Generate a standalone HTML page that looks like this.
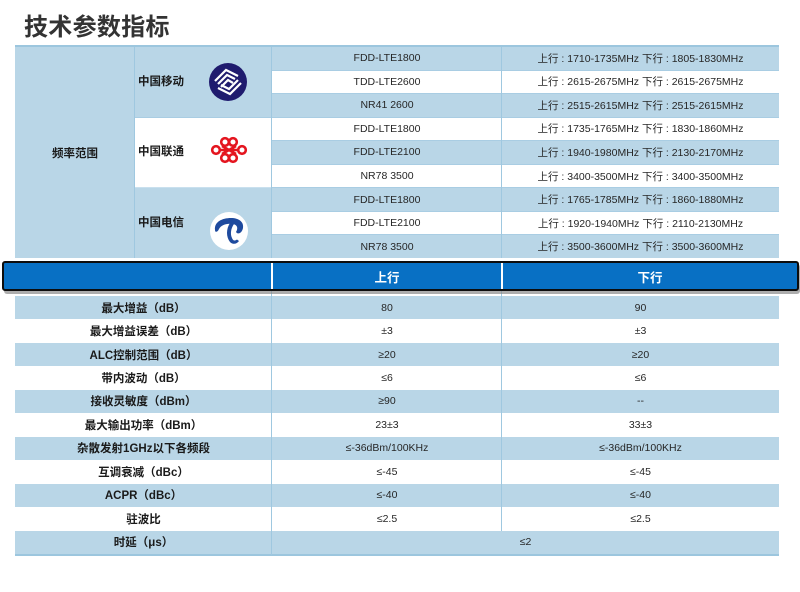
<!DOCTYPE html>
<html><head><meta charset="utf-8">
<style>
*{margin:0;padding:0;box-sizing:border-box}
body{width:800px;height:592px;background:#fff;position:relative;overflow:hidden;font-family:"Liberation Sans","Noto Sans CJK SC",sans-serif;color:#262626}
.a{position:absolute}
.title{left:24px;top:9px;font-size:24px;line-height:32px;color:#333;font-family:"Noto Sans CJK SC",sans-serif;font-weight:bold;letter-spacing:0.3px}
.c{position:absolute;display:flex;align-items:center;justify-content:center;font-size:10.5px;white-space:nowrap}
.b{font-weight:bold;font-size:11.5px;color:#1a1a1a}
.bl{background:#b9d6e7}
.wh{background:#fff}
.hl{position:absolute;height:1px;background:#a9cde3}
.vl{position:absolute;width:1px;background:#9fc8e0}
</style></head><body>
<div class="a title">技术参数指标</div>

<!-- upper table -->
<div class="a" style="left:15px;top:45px;width:764px;height:2px;background:#9cc6de"></div>
<div class="c bl b" style="left:15px;top:47px;width:120px;height:211px">频率范围</div>
<div class="a bl" style="left:135px;top:47px;width:137px;height:70px"></div>
<div class="a wh" style="left:135px;top:117px;width:137px;height:70px"></div>
<div class="a bl" style="left:135px;top:187px;width:137px;height:71px"></div>
<div class="c b" style="left:138px;top:70px;height:22px">中国移动</div>
<div class="c b" style="left:138px;top:140px;height:22px">中国联通</div>
<div class="c b" style="left:138px;top:211px;height:22px">中国电信</div>

<!-- rows col3/col4 -->
<div class="c bl" style="left:272px;top:47px;width:507px;height:22.6px"></div>
<div class="c wh" style="left:272px;top:70.6px;width:507px;height:22.5px"></div>
<div class="c bl" style="left:272px;top:94.1px;width:507px;height:22.6px"></div>
<div class="c wh" style="left:272px;top:117.7px;width:507px;height:22.5px"></div>
<div class="c bl" style="left:272px;top:141.2px;width:507px;height:22.6px"></div>
<div class="c wh" style="left:272px;top:164.8px;width:507px;height:22.5px"></div>
<div class="c bl" style="left:272px;top:188.3px;width:507px;height:22.6px"></div>
<div class="c wh" style="left:272px;top:211.9px;width:507px;height:22.5px"></div>
<div class="c bl" style="left:272px;top:235.4px;width:507px;height:22.6px"></div>

<div class="hl" style="left:272px;top:69.6px;width:507px"></div>
<div class="hl" style="left:272px;top:93.1px;width:507px"></div>
<div class="hl" style="left:272px;top:116.7px;width:507px"></div>
<div class="hl" style="left:135px;top:116.7px;width:137px;background:#a9cde3"></div>
<div class="hl" style="left:272px;top:140.2px;width:507px"></div>
<div class="hl" style="left:272px;top:163.8px;width:507px"></div>
<div class="hl" style="left:272px;top:187.3px;width:507px"></div>
<div class="hl" style="left:135px;top:187.3px;width:137px;background:#c9e0ee"></div>
<div class="hl" style="left:272px;top:210.9px;width:507px"></div>
<div class="hl" style="left:272px;top:234.4px;width:507px"></div>

<div class="vl" style="left:134px;top:47px;height:211px"></div>
<div class="vl" style="left:271px;top:47px;height:211px"></div>
<div class="vl" style="left:501px;top:47px;height:211px"></div>

<div class="c" style="left:272px;top:46.5px;width:230px;height:23.6px">FDD-LTE1800</div>
<div class="c" style="left:272px;top:70.1px;width:230px;height:23.6px">TDD-LTE2600</div>
<div class="c" style="left:272px;top:93.6px;width:230px;height:23.6px">NR41 2600</div>
<div class="c" style="left:272px;top:117.2px;width:230px;height:23.6px">FDD-LTE1800</div>
<div class="c" style="left:272px;top:140.7px;width:230px;height:23.6px">FDD-LTE2100</div>
<div class="c" style="left:272px;top:164.3px;width:230px;height:23.6px">NR78 3500</div>
<div class="c" style="left:272px;top:187.8px;width:230px;height:23.6px">FDD-LTE1800</div>
<div class="c" style="left:272px;top:211.4px;width:230px;height:23.6px">FDD-LTE2100</div>
<div class="c" style="left:272px;top:234.9px;width:230px;height:23.6px">NR78 3500</div>

<div class="c" style="left:502px;top:46.5px;width:277px;height:23.6px">上行 : 1710-1735MHz 下行 : 1805-1830MHz</div>
<div class="c" style="left:502px;top:70.1px;width:277px;height:23.6px">上行 : 2615-2675MHz 下行 : 2615-2675MHz</div>
<div class="c" style="left:502px;top:93.6px;width:277px;height:23.6px">上行 : 2515-2615MHz 下行 : 2515-2615MHz</div>
<div class="c" style="left:502px;top:117.2px;width:277px;height:23.6px">上行 : 1735-1765MHz 下行 : 1830-1860MHz</div>
<div class="c" style="left:502px;top:140.7px;width:277px;height:23.6px">上行 : 1940-1980MHz 下行 : 2130-2170MHz</div>
<div class="c" style="left:502px;top:164.3px;width:277px;height:23.6px">上行 : 3400-3500MHz 下行 : 3400-3500MHz</div>
<div class="c" style="left:502px;top:187.8px;width:277px;height:23.6px">上行 : 1765-1785MHz 下行 : 1860-1880MHz</div>
<div class="c" style="left:502px;top:211.4px;width:277px;height:23.6px">上行 : 1920-1940MHz 下行 : 2110-2130MHz</div>
<div class="c" style="left:502px;top:234.9px;width:277px;height:23.6px">上行 : 3500-3600MHz 下行 : 3500-3600MHz</div>

<!-- logos -->
<svg class="a" style="left:205px;top:60px" width="48" height="46" viewBox="0 0 48 46">
  <circle cx="23" cy="22" r="19" fill="#1f1b6e"/>
  <g fill="none" stroke="#fff" stroke-width="2.2" stroke-linejoin="miter">
    <path d="M10 21 L21 10 L33 16"/>
    <path d="M13 24 L22 15 L30 19"/>
    <path d="M16 27 L23 20 L28 23"/>
    <path d="M36 23 L25 34 L13 28"/>
    <path d="M33 20 L24 29 L16 25"/>
  </g>
</svg>
<svg class="a" style="left:210px;top:135px" width="38" height="30" viewBox="0 0 38 30">
  <g fill="none" stroke="#e4151f" stroke-width="2.6">
    <circle cx="15" cy="7" r="3.8"/>
    <circle cx="23" cy="7" r="3.8"/>
    <circle cx="15" cy="23" r="3.8"/>
    <circle cx="23" cy="23" r="3.8"/>
    <circle cx="6" cy="15" r="3.8"/>
    <circle cx="32" cy="15" r="3.8"/>
    <path d="M12 11 L26 19 M26 11 L12 19 M9 15 H29"/>
  </g>
</svg>
<svg class="a" style="left:208px;top:210px" width="42" height="42" viewBox="0 0 42 42">
  <circle cx="21" cy="21" r="19" fill="#fff"/>
  <path d="M7 20 C6 12 14 8 23 8 C31 8 36 12 35 18 C34 23 30 25 28 22 C30 19 30 15 25 14 C19 13 13 15 11 19 C10 22 7 23 7 20 Z" fill="#1e4a9e"/>
  <path d="M22 13 C18 19 18 27 22 32 C25 35 29 34 31 31 L29 29.5 C27 31 25 31 24 28 C22 24 23 18 26 14 Z" fill="#1e4a9e"/>
</svg>

<!-- lower table -->
<div class="a bl" style="left:15px;top:296px;width:764px;height:23.4px"></div>
<div class="a wh" style="left:15px;top:319.4px;width:764px;height:23.4px"></div>
<div class="a bl" style="left:15px;top:342.9px;width:764px;height:23.4px"></div>
<div class="a wh" style="left:15px;top:366.3px;width:764px;height:23.4px"></div>
<div class="a bl" style="left:15px;top:389.8px;width:764px;height:23.4px"></div>
<div class="a wh" style="left:15px;top:413.2px;width:764px;height:23.4px"></div>
<div class="a bl" style="left:15px;top:436.7px;width:764px;height:23.4px"></div>
<div class="a wh" style="left:15px;top:460.1px;width:764px;height:23.4px"></div>
<div class="a bl" style="left:15px;top:483.6px;width:764px;height:23.4px"></div>
<div class="a wh" style="left:15px;top:507px;width:764px;height:23.4px"></div>
<div class="a bl" style="left:15px;top:530.5px;width:764px;height:24.5px"></div>
<div class="a" style="left:15px;top:554px;width:764px;height:2px;background:#9cc6de"></div>
<div class="vl" style="left:271px;top:290px;height:265px"></div>
<div class="vl" style="left:501px;top:290px;height:241px"></div>

<div class="c b" style="left:15px;top:296px;width:257px;height:23.4px">最大增益（dB）</div>
<div class="c b" style="left:15px;top:319.4px;width:257px;height:23.4px">最大增益误差（dB）</div>
<div class="c b" style="left:15px;top:342.9px;width:257px;height:23.4px">ALC控制范围（dB）</div>
<div class="c b" style="left:15px;top:366.3px;width:257px;height:23.4px">带内波动（dB）</div>
<div class="c b" style="left:15px;top:389.8px;width:257px;height:23.4px">接收灵敏度（dBm）</div>
<div class="c b" style="left:15px;top:413.2px;width:257px;height:23.4px">最大输出功率（dBm）</div>
<div class="c b" style="left:15px;top:436.7px;width:257px;height:23.4px">杂散发射1GHz以下各频段</div>
<div class="c b" style="left:15px;top:460.1px;width:257px;height:23.4px">互调衰减（dBc）</div>
<div class="c b" style="left:15px;top:483.6px;width:257px;height:23.4px">ACPR（dBc）</div>
<div class="c b" style="left:15px;top:507px;width:257px;height:23.4px">驻波比</div>
<div class="c b" style="left:15px;top:530.5px;width:257px;height:23.4px">时延（μs）</div>

<div class="c" style="left:272px;top:296px;width:230px;height:23.4px">80</div>
<div class="c" style="left:272px;top:319.4px;width:230px;height:23.4px">±3</div>
<div class="c" style="left:272px;top:342.9px;width:230px;height:23.4px">≥20</div>
<div class="c" style="left:272px;top:366.3px;width:230px;height:23.4px">≤6</div>
<div class="c" style="left:272px;top:389.8px;width:230px;height:23.4px">≥90</div>
<div class="c" style="left:272px;top:413.2px;width:230px;height:23.4px">23±3</div>
<div class="c" style="left:272px;top:436.7px;width:230px;height:23.4px">≤-36dBm/100KHz</div>
<div class="c" style="left:272px;top:460.1px;width:230px;height:23.4px">≤-45</div>
<div class="c" style="left:272px;top:483.6px;width:230px;height:23.4px">≤-40</div>
<div class="c" style="left:272px;top:507px;width:230px;height:23.4px">≤2.5</div>

<div class="c" style="left:502px;top:296px;width:277px;height:23.4px">90</div>
<div class="c" style="left:502px;top:319.4px;width:277px;height:23.4px">±3</div>
<div class="c" style="left:502px;top:342.9px;width:277px;height:23.4px">≥20</div>
<div class="c" style="left:502px;top:366.3px;width:277px;height:23.4px">≤6</div>
<div class="c" style="left:502px;top:389.8px;width:277px;height:23.4px">--</div>
<div class="c" style="left:502px;top:413.2px;width:277px;height:23.4px">33±3</div>
<div class="c" style="left:502px;top:436.7px;width:277px;height:23.4px">≤-36dBm/100KHz</div>
<div class="c" style="left:502px;top:460.1px;width:277px;height:23.4px">≤-45</div>
<div class="c" style="left:502px;top:483.6px;width:277px;height:23.4px">≤-40</div>
<div class="c" style="left:502px;top:507px;width:277px;height:23.4px">≤2.5</div>
<div class="c" style="left:272px;top:530.5px;width:507px;height:23.4px">≤2</div>

<!-- header bar -->
<div class="a" style="left:4px;top:264px;width:796px;height:30px;background:#8a8a8a;border-radius:3px;opacity:0.7"></div>
<div class="a" style="left:2px;top:261px;width:797px;height:30px;background:#0870c4;border:2px solid #0d0d0d;border-radius:3px"></div>
<div class="a" style="left:271px;top:263px;width:2px;height:26px;background:#fff"></div>
<div class="a" style="left:501px;top:263px;width:2px;height:26px;background:#fff"></div>
<div class="c" style="left:273px;top:263px;width:228px;height:26px;color:#fff;font-weight:bold;font-size:12.5px">上行</div>
<div class="c" style="left:503px;top:263px;width:294px;height:26px;color:#fff;font-weight:bold;font-size:12.5px">下行</div>
</body></html>
